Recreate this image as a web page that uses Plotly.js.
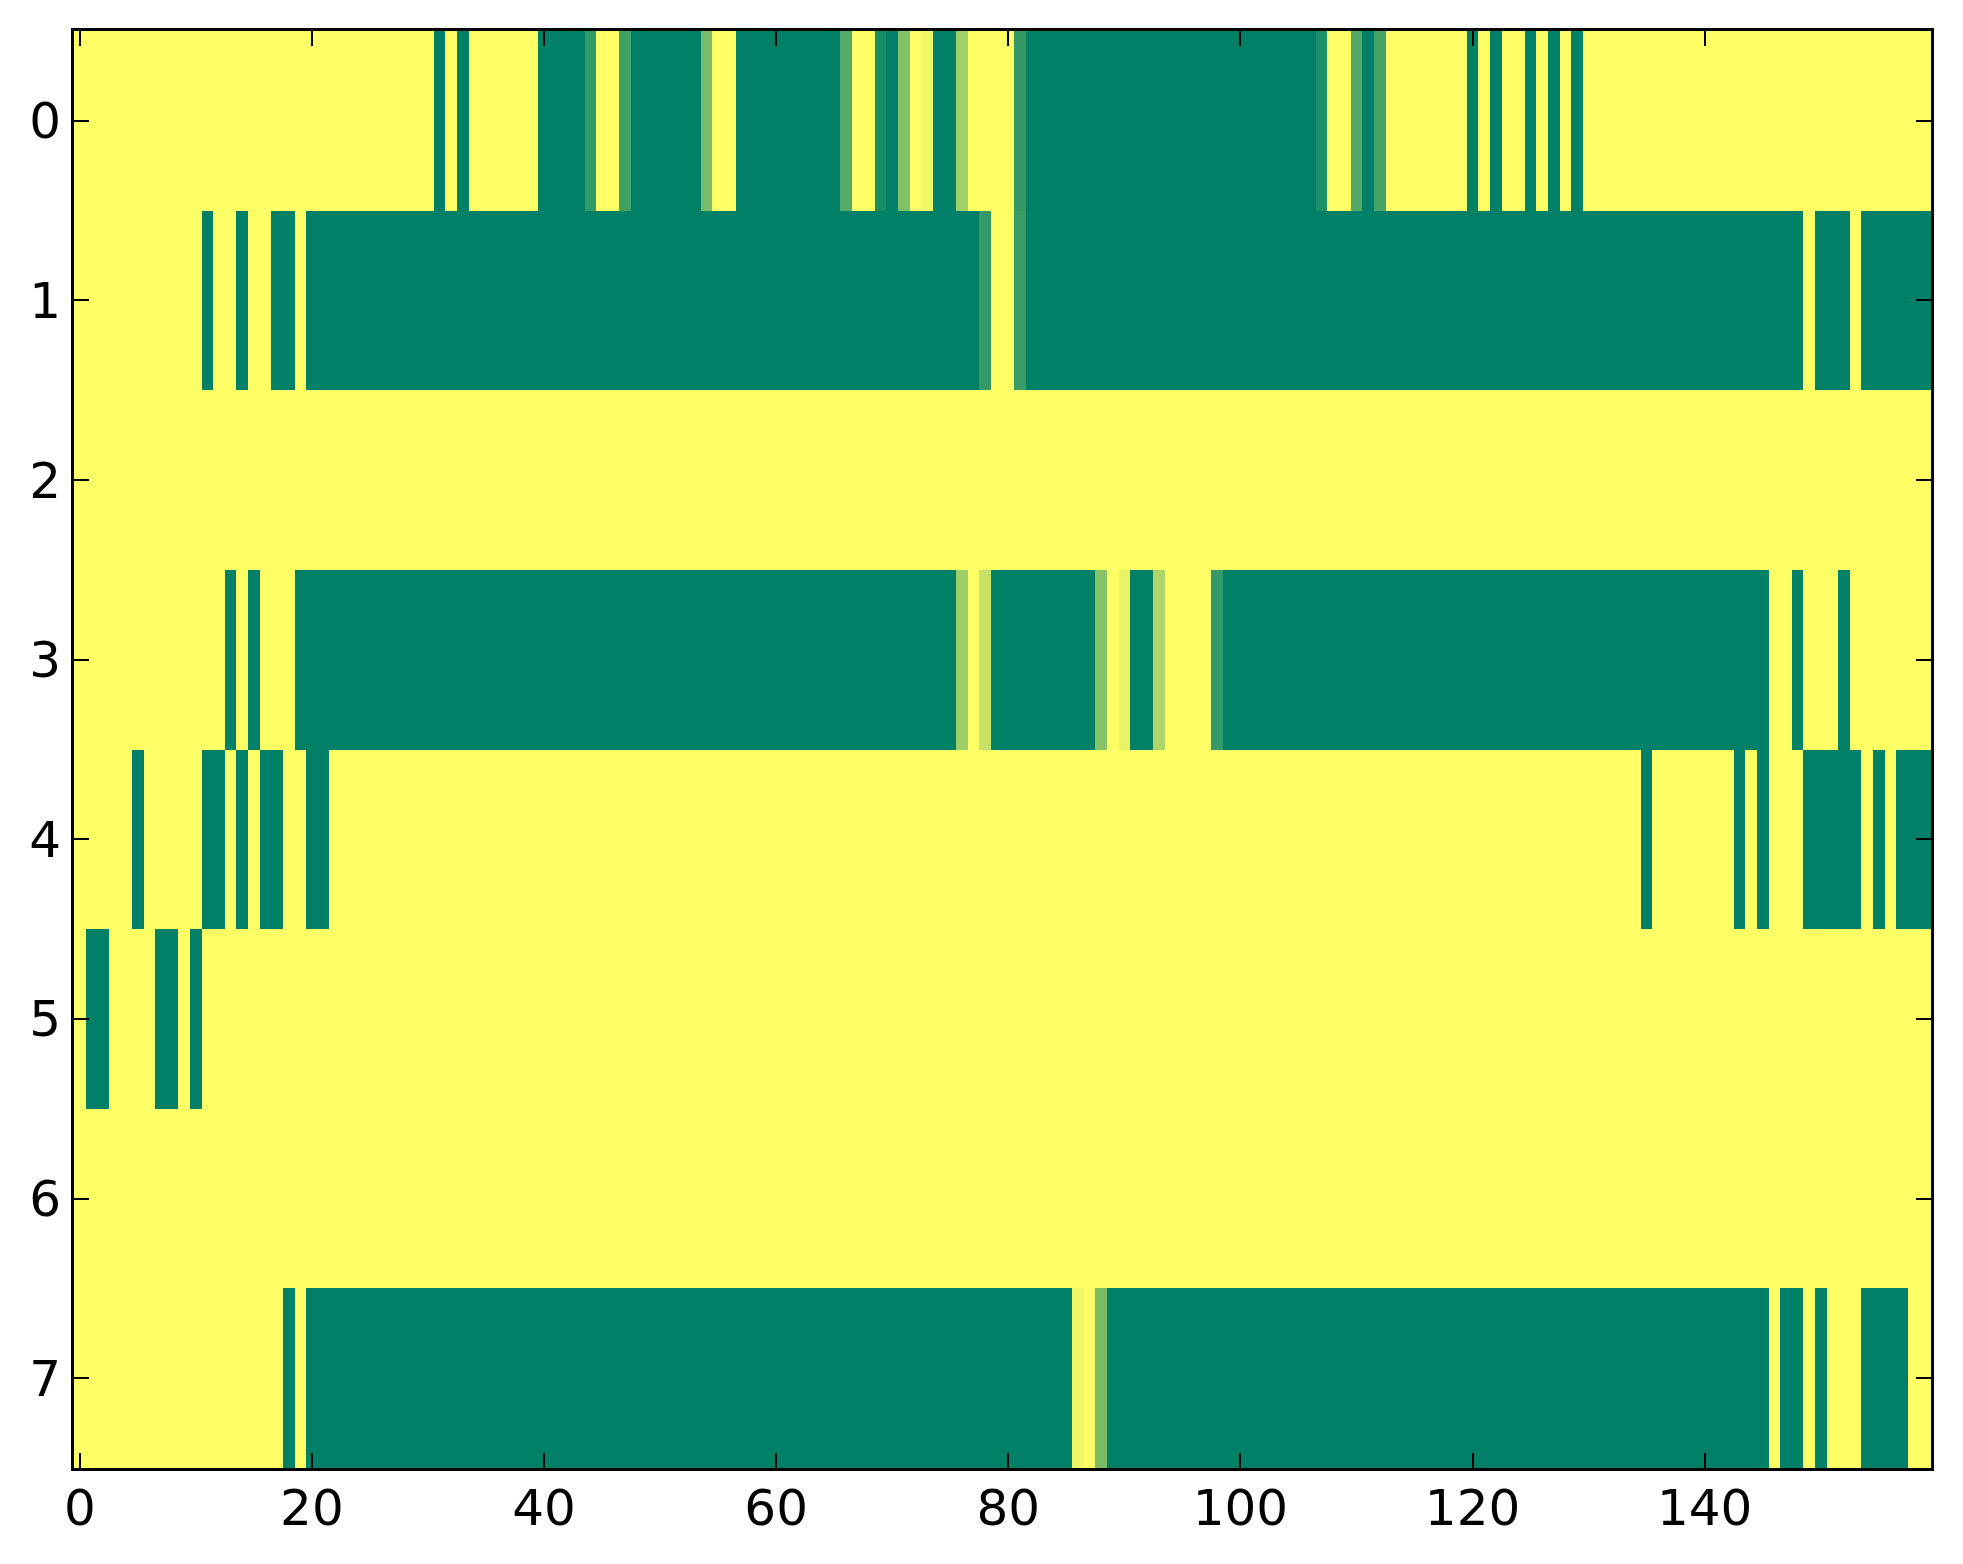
<!DOCTYPE html>
<html>
<head>
<meta charset="utf-8">
<script src="https://cdn.plot.ly/plotly-3.0.1.min.js"></script>
<style>
  html, body { margin: 0; padding: 0; background: #ffffff; }
  #chart { width: 1963px; height: 1564px; }
</style>
</head>
<body>
<div id="chart"></div>
<script>
// Row labels (y) and column count (x)
const rowLabels = [0, 1, 2, 3, 4, 5, 6, 7];
const xTickVals = [0, 20, 40, 60, 80, 100, 120, 140];
const xTickText = ["0", "20", "40", "60", "80", "100", "120", "140"];

// Values (0 = yellow, 1 = green), 160 columns per row
const row0 = [
  0,0,0,0,0,0,0,0,0,0,
  0,0,0,0,0,0,0,0,0,0,
  0,0,0,0,0,0,0,0,0,0,
  0,1,0,1,0,0,0,0,0,0,
  1,1,1,1,0.8,0,0,0.75,1,1,
  1,1,1,1,0.53,0,0,1,1,1,
  1,1,1,1,1,1,0.67,0,0,0.9,
  1,0.5,0,0.06,1,1,0.37,0,0,0,
  0,0.8,1,1,1,1,1,1,1,1,
  1,1,1,1,1,1,1,1,1,1,
  1,1,1,1,1,1,1,0.88,0,0,
  0.68,1,0.72,0,0,0,0,0,0,0,
  1,0,1,0,0,1,0,1,0,1,
  0,0,0,0,0,0,0,0,0,0,
  0,0,0,0,0,0,0,0,0,0,
  0,0,0,0,0,0,0,0,0,0
];
const row1 = [
  0,0,0,0,0,0,0,0,0,0,
  0,1,0,0,1,0,0,1,1,0,
  1,1,1,1,1,1,1,1,1,1,
  1,1,1,1,1,1,1,1,1,1,
  1,1,1,1,1,1,1,1,1,1,
  1,1,1,1,1,1,1,1,1,1,
  1,1,1,1,1,1,1,1,1,1,
  1,1,1,1,1,1,1,1,0.8,0,
  0,0.78,1,1,1,1,1,1,1,1,
  1,1,1,1,1,1,1,1,1,1,
  1,1,1,1,1,1,1,1,1,1,
  1,1,1,1,1,1,1,1,1,1,
  1,1,1,1,1,1,1,1,1,1,
  1,1,1,1,1,1,1,1,1,1,
  1,1,1,1,1,1,1,1,1,0,
  1,1,1,0,1,1,1,1,1,1
];
const row2 = [
  0,0,0,0,0,0,0,0,0,0,
  0,0,0,0,0,0,0,0,0,0,
  0,0,0,0,0,0,0,0,0,0,
  0,0,0,0,0,0,0,0,0,0,
  0,0,0,0,0,0,0,0,0,0,
  0,0,0,0,0,0,0,0,0,0,
  0,0,0,0,0,0,0,0,0,0,
  0,0,0,0,0,0,0,0,0,0,
  0,0,0,0,0,0,0,0,0,0,
  0,0,0,0,0,0,0,0,0,0,
  0,0,0,0,0,0,0,0,0,0,
  0,0,0,0,0,0,0,0,0,0,
  0,0,0,0,0,0,0,0,0,0,
  0,0,0,0,0,0,0,0,0,0,
  0,0,0,0,0,0,0,0,0,0,
  0,0,0,0,0,0,0,0,0,0
];
const row3 = [
  0,0,0,0,0,0,0,0,0,0,
  0,0,0,1,0,1,0,0,0,1,
  1,1,1,1,1,1,1,1,1,1,
  1,1,1,1,1,1,1,1,1,1,
  1,1,1,1,1,1,1,1,1,1,
  1,1,1,1,1,1,1,1,1,1,
  1,1,1,1,1,1,1,1,1,1,
  1,1,1,1,1,1,0.38,0,0.22,1,
  1,1,1,1,1,1,1,1,0.47,0,
  0.09,1,1,0.32,0,0,0,0,0.8,1,
  1,1,1,1,1,1,1,1,1,1,
  1,1,1,1,1,1,1,1,1,1,
  1,1,1,1,1,1,1,1,1,1,
  1,1,1,1,1,1,1,1,1,1,
  1,1,1,1,1,1,0,0,1,0,
  0,0,1,0,0,0,0,0,0,0
];
const row4 = [
  0,0,0,0,0,1,0,0,0,0,
  0,1,1,0,1,0,1,1,0,0,
  1,1,0,0,0,0,0,0,0,0,
  0,0,0,0,0,0,0,0,0,0,
  0,0,0,0,0,0,0,0,0,0,
  0,0,0,0,0,0,0,0,0,0,
  0,0,0,0,0,0,0,0,0,0,
  0,0,0,0,0,0,0,0,0,0,
  0,0,0,0,0,0,0,0,0,0,
  0,0,0,0,0,0,0,0,0,0,
  0,0,0,0,0,0,0,0,0,0,
  0,0,0,0,0,0,0,0,0,0,
  0,0,0,0,0,0,0,0,0,0,
  0,0,0,0,0,1,0,0,0,0,
  0,0,0,1,0,1,0,0,0,1,
  1,1,1,1,0,1,0,1,1,1
];
const row5 = [
  0,1,1,0,0,0,0,1,1,0,
  1,0,0,0,0,0,0,0,0,0,
  0,0,0,0,0,0,0,0,0,0,
  0,0,0,0,0,0,0,0,0,0,
  0,0,0,0,0,0,0,0,0,0,
  0,0,0,0,0,0,0,0,0,0,
  0,0,0,0,0,0,0,0,0,0,
  0,0,0,0,0,0,0,0,0,0,
  0,0,0,0,0,0,0,0,0,0,
  0,0,0,0,0,0,0,0,0,0,
  0,0,0,0,0,0,0,0,0,0,
  0,0,0,0,0,0,0,0,0,0,
  0,0,0,0,0,0,0,0,0,0,
  0,0,0,0,0,0,0,0,0,0,
  0,0,0,0,0,0,0,0,0,0,
  0,0,0,0,0,0,0,0,0,0
];
const row6 = [
  0,0,0,0,0,0,0,0,0,0,
  0,0,0,0,0,0,0,0,0,0,
  0,0,0,0,0,0,0,0,0,0,
  0,0,0,0,0,0,0,0,0,0,
  0,0,0,0,0,0,0,0,0,0,
  0,0,0,0,0,0,0,0,0,0,
  0,0,0,0,0,0,0,0,0,0,
  0,0,0,0,0,0,0,0,0,0,
  0,0,0,0,0,0,0,0,0,0,
  0,0,0,0,0,0,0,0,0,0,
  0,0,0,0,0,0,0,0,0,0,
  0,0,0,0,0,0,0,0,0,0,
  0,0,0,0,0,0,0,0,0,0,
  0,0,0,0,0,0,0,0,0,0,
  0,0,0,0,0,0,0,0,0,0,
  0,0,0,0,0,0,0,0,0,0
];
const row7 = [
  0,0,0,0,0,0,0,0,0,0,
  0,0,0,0,0,0,0,0,1,0,
  1,1,1,1,1,1,1,1,1,1,
  1,1,1,1,1,1,1,1,1,1,
  1,1,1,1,1,1,1,1,1,1,
  1,1,1,1,1,1,1,1,1,1,
  1,1,1,1,1,1,1,1,1,1,
  1,1,1,1,1,1,1,1,1,1,
  1,1,1,1,1,1,0.06,0,0.52,1,
  1,1,1,1,1,1,1,1,1,1,
  1,1,1,1,1,1,1,1,1,1,
  1,1,1,1,1,1,1,1,1,1,
  1,1,1,1,1,1,1,1,1,1,
  1,1,1,1,1,1,1,1,1,1,
  1,1,1,1,1,1,0,1,1,0,
  1,0,0,0,1,1,1,1,0,0
];

const zRows = [row0, row1, row2, row3, row4, row5, row6, row7];
const columns = row0.map((_, i) => i);

const trace = {
  type: 'heatmap',
  z: zRows,
  x: columns,
  y: rowLabels,
  zmin: 0,
  zmax: 1,
  colorscale: [[0, 'rgb(255,255,102)'], [1, 'rgb(0,128,102)']],
  showscale: false,
  hoverinfo: 'x+y+z'
};

const axisCommon = {
  showline: true,
  linecolor: '#000000',
  linewidth: 3,
  mirror: 'allticks',
  ticks: 'inside',
  ticklen: 15,
  tickwidth: 2,
  tickcolor: '#000000',
  showgrid: false,
  zeroline: false,
  tickfont: { family: 'DejaVu Sans', size: 50, color: '#000000' }
};

const layout = {
  width: 1963,
  height: 1564,
  paper_bgcolor: '#ffffff',
  plot_bgcolor: '#ffffff',
  margin: { l: 74, r: 32, t: 31, b: 96 },
  showlegend: false,
  xaxis: Object.assign({}, axisCommon, {
    range: [-0.5, 159.5],
    tickmode: 'array',
    tickvals: xTickVals,
    ticktext: xTickText,
    ticklabelstandoff: -6
  }),
  yaxis: Object.assign({}, axisCommon, {
    range: [7.5, -0.5],
    tickmode: 'array',
    tickvals: rowLabels,
    ticktext: rowLabels.map(String),
    ticklabelstandoff: 0
  })
};

Plotly.newPlot('chart', [trace], layout, { staticPlot: true, displayModeBar: false });
</script>
</body>
</html>
